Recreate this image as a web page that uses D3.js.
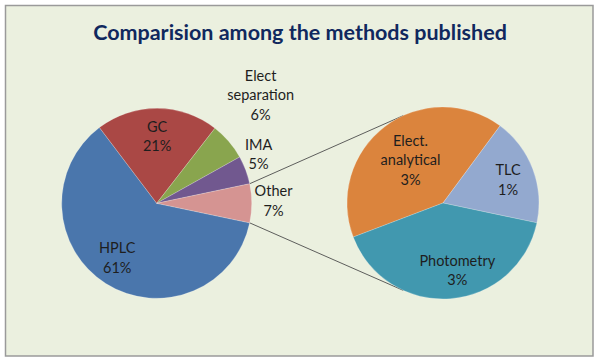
<!DOCTYPE html>
<html><head><meta charset="utf-8">
<script src="https://cdn.jsdelivr.net/npm/d3@7"></script>
<style>html,body{margin:0;padding:0;background:#fff;}svg{display:block;}</style>
</head><body>
<svg id="c" width="600" height="362"></svg>
<script>
// ---- data ----
const title = "Comparision among the methods published";
const mainCategories = ["HPLC", "GC", "Elect separation", "IMA", "Other"];
const mainValues = [61.4, 20.8, 6.4, 4.8, 6.6];
const subCategories = ["Elect. analytical", "TLC", "Photometry"];
const subValues = [2.7, 1.2, 2.7];

// ---- styles / layout ----
const mainColors = ["#4a76ac", "#aa4845", "#89a54e", "#71588f", "#d59492"];
const subColors = ["#db843d", "#93a9cf", "#4198af"];
const mainLabelLines = [["HPLC"], ["GC"], ["Elect", "separation"], ["IMA"], ["Other"]];
const subLabelLines = [["Elect.", "analytical"], ["TLC"], ["Photometry"]];
const mainLabelPos = [{k:0.71,da:3.4},{k:0.705,da:0},{k:1.58,da:-5.5},{k:1.19,da:-5.1},{k:1.23,da:-1.1}];
const subLabelPos = [{k:0.56,da:0},{k:0.72,da:1.2},{k:0.72,da:-7.5}];

const svg = d3.select("#c");
const font = "Lato, 'Open Sans', sans-serif";

svg.append("rect").attr("x", 5.5).attr("y", 5.5).attr("width", 587.5).attr("height", 350.5)
  .attr("fill", "#ebf0df").attr("stroke", "#9a9a9a").attr("stroke-width", 1.5);

svg.append("text").attr("x", 300).attr("y", 40).attr("text-anchor", "middle")
  .attr("font-family", font).attr("font-weight", "bold").attr("font-size", 21.5)
  .attr("fill", "#10285e").text(title);

const main = {cx: 156.7, cy: 203.3, r: 95};
const sub = {cx: 443, cy: 203, r: 96};

const mainTotal = d3.sum(mainValues);
const otherAngle = mainValues[mainValues.length - 1] / mainTotal * 2 * Math.PI;
const mainStart = Math.PI / 2 + otherAngle / 2;
const mainPie = d3.pie().sort(null).startAngle(mainStart).endAngle(mainStart + 2 * Math.PI);
const subStart = -110.8 * Math.PI / 180;
const subPie = d3.pie().sort(null).startAngle(subStart).endAngle(subStart + 2 * Math.PI);

const mainArcs = mainPie(mainValues);
const subArcs = subPie(subValues);

const fmt = v => Math.round(v) + "%";

function drawPie(g, arcs, colors, r) {
  const arc = d3.arc().innerRadius(0).outerRadius(r);
  g.selectAll("path").data(arcs).join("path")
    .attr("d", arc).attr("fill", (d, i) => colors[i])
    .attr("stroke", "#ffffff").attr("stroke-opacity", 0.35).attr("stroke-width", 0.6);
}

function drawLabels(g, arcs, lines, pos, r, values) {
  arcs.forEach((d, i) => {
    const mid = (d.startAngle + d.endAngle) / 2 + pos[i].da * Math.PI / 180;
    const rr = r * pos[i].k;
    const x = rr * Math.sin(mid), y = -rr * Math.cos(mid);
    const all = lines[i].concat([fmt(values[i])]);
    const lh = 19.5;
    const y0 = y - (all.length - 1) * lh / 2;
    const t = g.append("text").attr("text-anchor", "middle")
      .attr("font-family", font).attr("font-size", 14.5).attr("fill", "#1e1e1e");
    all.forEach((s, j) => {
      t.append("tspan").attr("x", x).attr("y", y0 + j * lh).attr("dy", "0.35em").text(s);
    });
  });
}

// connectors
const oArc = mainArcs[mainArcs.length - 1];
const pOnMain = a => [main.cx + main.r * Math.sin(a), main.cy - main.r * Math.cos(a)];
const connAngle = 24.5 * Math.PI / 180;
const pOnSub = s => [sub.cx - sub.r * Math.sin(connAngle), sub.cy + s * sub.r * Math.cos(connAngle)];
const conns = [[pOnMain(oArc.startAngle), pOnSub(-1)], [pOnMain(oArc.endAngle), pOnSub(1)]];
svg.append("g").selectAll("line").data(conns).join("line")
  .attr("x1", d => d[0][0]).attr("y1", d => d[0][1])
  .attr("x2", d => d[1][0]).attr("y2", d => d[1][1])
  .attr("stroke", "#4d4d4d").attr("stroke-width", 0.9);

const gMain = svg.append("g").attr("transform", `translate(${main.cx},${main.cy})`);
drawPie(gMain, mainArcs, mainColors, main.r);
drawLabels(gMain, mainArcs, mainLabelLines, mainLabelPos, main.r, mainValues);

const gSub = svg.append("g").attr("transform", `translate(${sub.cx},${sub.cy})`);
drawPie(gSub, subArcs, subColors, sub.r);
drawLabels(gSub, subArcs, subLabelLines, subLabelPos, sub.r, subValues);
</script>
</body></html>
